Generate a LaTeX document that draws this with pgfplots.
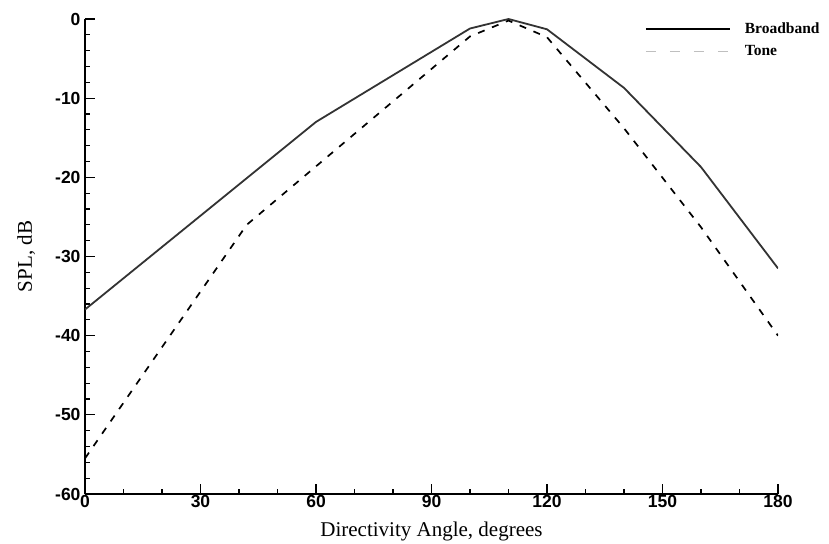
\documentclass[border=0pt]{standalone}
\usepackage{fontspec}
\setmainfont{Liberation Serif}
\setsansfont{Liberation Sans}
\usepackage{pgfplots}
\pgfplotsset{compat=1.18}
\usepackage{pgfplotstable}

\pgfplotstableread{
x y
0 -36.7
60 -13.0
100 -1.2
110 0
120 -1.3
140 -8.7
160 -18.7
180 -31.5
}\broadband

\pgfplotstableread{
x y
0 -55.5
42 -26.0
100 -2.2
110 -0.2
120 -2.3
140 -13.8
160 -26.3
180 -40.0
}\tone

\begin{document}
\begin{tikzpicture}
\useasboundingbox (-85pt,-49pt) rectangle (744pt,494pt);
\begin{axis}[
  scale only axis,
  width=693pt, height=475pt,
  xmin=0, xmax=180, ymin=-60, ymax=0,
  axis lines*=left,
  axis line style={line width=1.5pt},
  xtick={0,30,...,180},
  ytick={-60,-50,...,0},
  minor x tick num=2,
  minor y tick num=4,
  tick align=inside,
  tick style={black, line width=1.3pt},
  major tick length=10pt,
  minor tick length=5pt,
  /pgf/number format/assume math mode=true,
  ticklabel style={font=\sffamily\bfseries\fontsize{17.5}{19}\selectfont},
  xticklabel style={yshift=2pt},
  yticklabel style={xshift=-1pt},
  xlabel={Directivity Angle, degrees},
  ylabel={SPL, dB},
  label style={font=\fontsize{21}{23}\selectfont},
  xlabel style={at={(axis description cs:0.5,-0.078)}, anchor=center},
  ylabel style={at={(axis description cs:-0.085,0.5)}, anchor=center, rotate=0},
  legend style={draw=none, fill=none, at={(axis description cs:0.805,1.0)}, anchor=north west,
    font=\bfseries\fontsize{15.5}{16}\selectfont, row sep=6pt, inner sep=2pt},
  legend cell align=left,
  legend image code/.code={\draw[#1] (0pt,0pt) -- (84pt,0pt); \path (96pt,0pt);},
]
\addplot[color=black!80, line width=1.8pt, forget plot] table[x=x,y=y] {\broadband};
\addplot[color=black, line width=1.7pt, dash pattern=on 7pt off 8pt, forget plot] table[x=x,y=y] {\tone};
\addlegendimage{black, line width=1.8pt}
\addlegendentry{Broadband}
\addlegendimage{black!25, line width=1.4pt, dash pattern=on 10pt off 14pt}
\addlegendentry{Tone}
\end{axis}
\end{tikzpicture}
\end{document}
